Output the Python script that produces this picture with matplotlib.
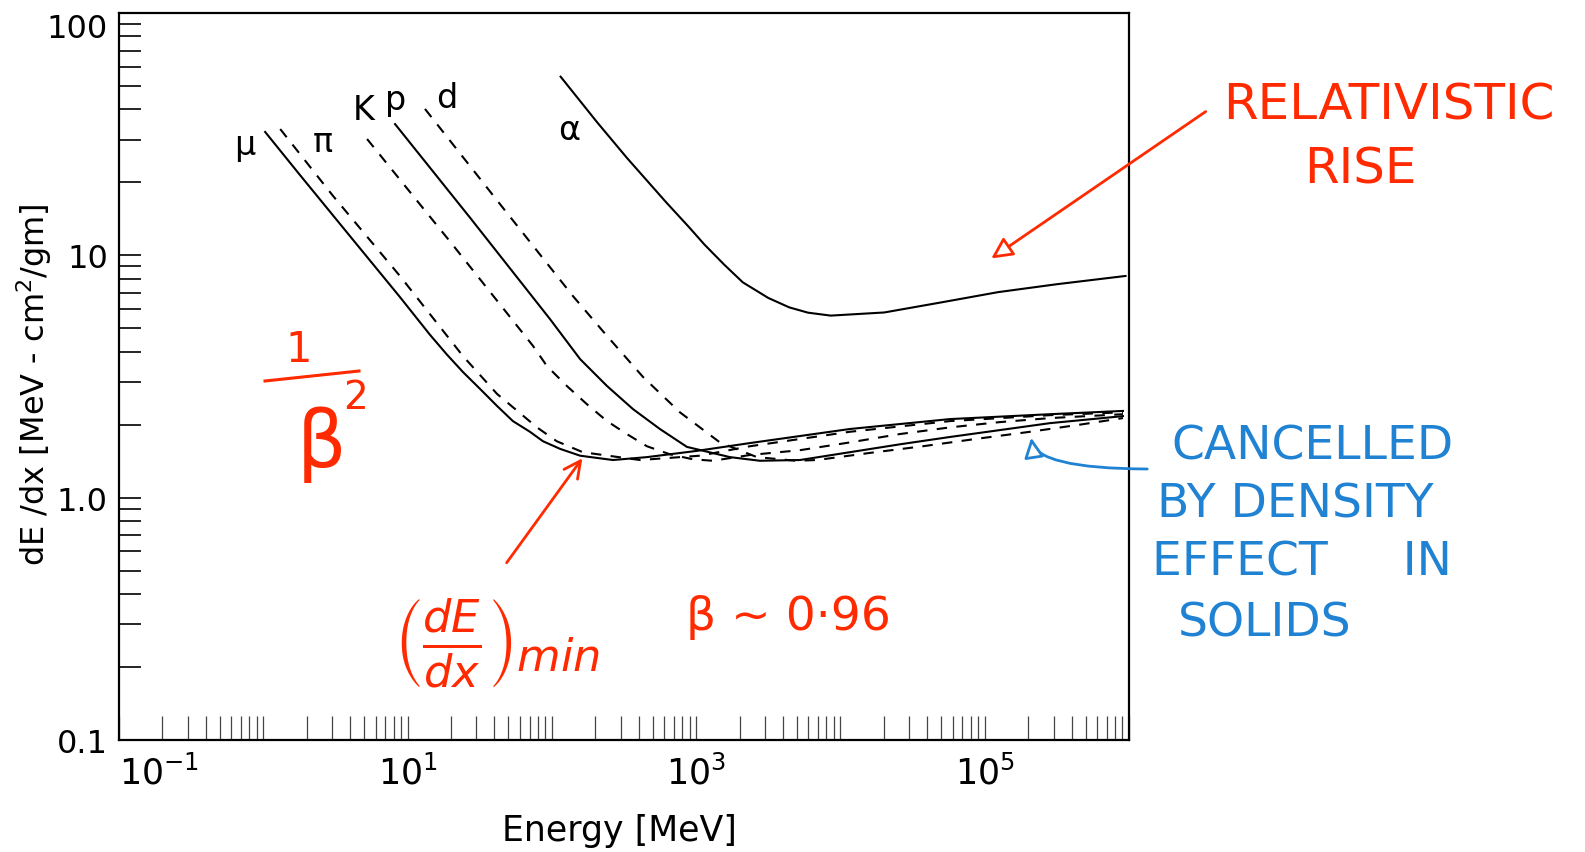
import matplotlib
matplotlib.use('Agg')
import matplotlib.pyplot as plt
from matplotlib.ticker import FixedLocator, FixedFormatter, LogLocator, NullFormatter

# kinetic energy [MeV] and dE/dx [MeV cm2/g]
mu_E = [1.03, 1.79, 3.99, 8.85, 14.3, 18.7, 24.2, 31.8, 41.7, 53.7, 70.5, 86.7, 114, 157,
        265, 456, 1014, 2360, 1.16e4, 5.74e4, 2.83e5, 9.08e5]
mu_dedx = [32.3, 21.5, 12.0, 6.73, 4.70, 3.90, 3.30, 2.81, 2.39, 2.07, 1.87, 1.71, 1.59, 1.49,
           1.43, 1.47, 1.56, 1.68, 1.92, 2.11, 2.21, 2.28]

pi_E = [1.31, 3.04, 8.85, 24.2, 41.7, 78.9, 108, 164, 408, 1062, 2360,
        1.16e4, 5.74e4, 2.83e5, 9.08e5]
pi_dedx = [33.2, 17.6, 8.22, 3.84, 2.68, 1.95, 1.71, 1.54, 1.43, 1.49, 1.63,
           1.87, 2.07, 2.19, 2.25]

K_E = [5.24, 19.7, 74.0, 92.5, 127, 175, 241, 331, 456, 658, 950, 1306, 2360,
       5240, 1.16e4, 2.58e4, 5.74e4, 1.27e5, 2.83e5, 9.08e5]
K_dedx = [30.2, 11.4, 4.23, 3.49, 2.89, 2.43, 2.07, 1.83, 1.63, 1.51, 1.44, 1.42, 1.50,
          1.57, 1.69, 1.83, 1.95, 2.05, 2.13, 2.21]

p_E = [8.19, 27.1, 97.0, 157, 241, 365, 561, 863, 1714, 2767, 5240, 1.16e4,
       2.58e4, 5.74e4, 1.27e5, 2.83e5, 9.08e5]
p_dedx = [34.8, 14.3, 5.46, 3.73, 2.89, 2.32, 1.92, 1.62, 1.47, 1.42, 1.43, 1.54,
          1.66, 1.78, 1.90, 2.03, 2.17]

d_E = [13.2, 43.6, 140, 241, 428, 772, 1462, 2637, 4920, 6880, 1.60e4, 3.73e4,
       8.84e4, 2.06e5, 4.80e5, 9.08e5]
d_dedx = [40.2, 16.3, 6.79, 4.65, 3.15, 2.25, 1.69, 1.47, 1.42, 1.43, 1.53, 1.63,
          1.75, 1.87, 2.01, 2.13]

alpha_E = [115, 206, 334, 617, 900, 1138, 1560, 2104, 3162, 4416, 5960, 8551, 2.01e4,
           5.04e4, 1.24e5, 3.16e5, 9.46e5]
alpha_dedx = [54.6, 35.4, 25.1, 16.6, 13.0, 11.1, 9.17, 7.74, 6.67, 6.10, 5.80, 5.64, 5.81,
              6.40, 7.05, 7.60, 8.22]

x_ticks = [1e-1, 1e0, 1e1, 1e2, 1e3, 1e4, 1e5, 1e6]
x_ticklabels = ['$10^{-1}$', '', '$10^{1}$', '', '$10^{3}$', '', '$10^{5}$', '']
y_ticks = [0.1, 1.0, 10, 100]
y_ticklabels = ['0.1', '1.0', '10', '100']

RED = '#ff2a00'
BLUE = '#1f82d2'
W, H = 1585, 853


def fp(x, y):
    # pixel position on the page -> figure fraction
    return (x / W, 1 - y / H)


def main():
    plt.rcParams['font.family'] = ['DejaVu Sans']
    plt.rcParams['mathtext.fontset'] = 'dejavusans'

    fig = plt.figure(figsize=(W / 100, H / 100), dpi=100)
    ax = fig.add_axes([119 / W, 1 - 741 / H, 1010 / W, 727 / H])

    dash = (5, 4.5)
    ax.plot(mu_E, mu_dedx, color='black', lw=1.5)
    ax.plot(pi_E, pi_dedx, color='black', lw=1.5, dashes=dash)
    ax.plot(K_E, K_dedx, color='black', lw=1.5, dashes=dash)
    ax.plot(p_E, p_dedx, color='black', lw=1.5)
    ax.plot(d_E, d_dedx, color='black', lw=1.5, dashes=dash)
    ax.plot(alpha_E, alpha_dedx, color='black', lw=1.5)

    ax.set_xscale('log')
    ax.set_yscale('log')
    ax.set_xlim(1e-1, 1e6)
    ax.set_ylim(0.1, 100)

    ax.xaxis.set_major_locator(FixedLocator(x_ticks))
    ax.xaxis.set_major_formatter(FixedFormatter(x_ticklabels))
    ax.xaxis.set_minor_locator(LogLocator(base=10, subs=range(2, 10), numticks=20))
    ax.xaxis.set_minor_formatter(NullFormatter())
    ax.yaxis.set_major_locator(FixedLocator(y_ticks))
    ax.yaxis.set_major_formatter(FixedFormatter(y_ticklabels))
    ax.yaxis.set_minor_locator(LogLocator(base=10, subs=range(2, 10), numticks=20))
    ax.yaxis.set_minor_formatter(NullFormatter())

    ax.tick_params(axis='x', which='both', direction='in', length=17, width=0.9,
                   color='#444444', labelsize=25, pad=10, top=False)
    ax.tick_params(axis='y', which='both', direction='in', length=16, width=1.2,
                   labelsize=23, pad=8, right=False)
    ax.xaxis.get_major_ticks()[0].label1.set_horizontalalignment('left')
    ax.yaxis.get_major_ticks()[-1].label1.set_verticalalignment('top')
    for s in ax.spines.values():
        s.set_linewidth(1.6)

    ax.set_xlabel('Energy [MeV]', fontsize=25)
    ax.xaxis.set_label_coords(0.495, -0.1)
    ax.set_ylabel('dE /dx [MeV - cm$^2$/gm]', fontsize=23)
    ax.yaxis.set_label_coords(-0.064, 0.49)

    # particle labels
    for name, ex, ey in [('μ', 0.746, 28.8), ('π', 2.59, 29.6), ('K', 4.99, 39.8),
                         ('p', 8.32, 43.8), ('d', 18.7, 45.0), ('α', 131, 32.9)]:
        ax.text(ex, ey, name, fontsize=24, ha='center', va='center')

    # red handwritten notes
    fig.text(*fp(1223, 106), 'RELATIVISTIC', color=RED, fontsize=36,
             ha='left', va='center')
    fig.text(*fp(1304, 170), 'RISE', color=RED, fontsize=36, ha='left', va='center')
    fig.add_artist(plt.Annotation('', xy=fp(989, 261), xytext=fp(1208, 111),
                                  xycoords='figure fraction', textcoords='figure fraction',
                                  arrowprops=dict(arrowstyle='-|>', color=RED, fc='white',
                                                  lw=2, mutation_scale=32)))

    fig.text(*fp(299, 350), '1', color=RED, fontsize=30, ha='center', va='center')
    fig.add_artist(plt.Line2D([265 / W, 359 / W], [1 - 382 / H, 1 - 372 / H],
                              color=RED, lw=2.2))
    fig.text(*fp(322, 445), 'β', color=RED, fontsize=56, ha='center', va='center')
    fig.text(*fp(355, 398), '2', color=RED, fontsize=28, ha='center', va='center')

    fig.text(*fp(497, 643), r'$\left(\frac{dE}{dx}\right)_{min}$', color=RED,
             fontsize=46, ha='center', va='center')
    fig.add_artist(plt.Annotation('', xy=fp(584, 457), xytext=fp(505, 566),
                                  xycoords='figure fraction', textcoords='figure fraction',
                                  arrowprops=dict(arrowstyle='->', color=RED, lw=2,
                                                  mutation_scale=30)))
    fig.text(*fp(788, 617), 'β ~ 0·96', color=RED, fontsize=34, ha='center', va='center')

    # blue handwritten notes
    for txt, x, y in [('CANCELLED', 1171, 447), ('BY DENSITY', 1157, 505),
                      ('EFFECT     IN', 1152, 563), ('SOLIDS', 1178, 624)]:
        fig.text(*fp(x, y), txt, color=BLUE, fontsize=34, ha='left', va='center')
    fig.add_artist(plt.Annotation('', xy=fp(1031, 436), xytext=fp(1150, 470),
                                  xycoords='figure fraction', textcoords='figure fraction',
                                  arrowprops=dict(arrowstyle='-|>', color=BLUE, fc='white',
                                                  lw=2, mutation_scale=30,
                                                  connectionstyle='angle3,angleA=0,angleB=90')))

    fig.savefig('out.png', dpi=100)


if __name__ == '__main__':
    main()
